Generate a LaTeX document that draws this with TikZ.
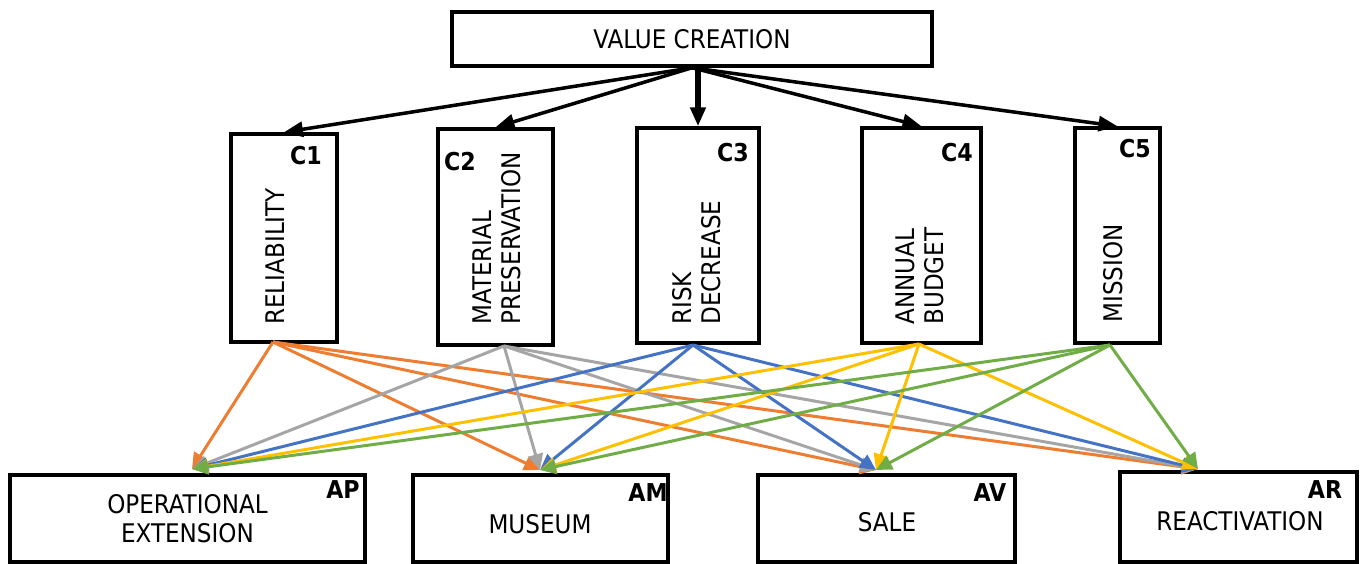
\documentclass[tikz,border=0pt]{standalone}
\usepackage{fontspec}
\setmainfont{DejaVu Sans Condensed}
\usetikzlibrary{arrows.meta}

\definecolor{critA}{HTML}{ED7D31}
\definecolor{critB}{HTML}{A5A5A5}
\definecolor{critC}{HTML}{4472C4}
\definecolor{critD}{HTML}{FFC000}
\definecolor{critE}{HTML}{70AD47}

\tikzset{
  box/.style={draw,line width=2pt,inner sep=0pt},
  tag/.style={font=\fontsize{14}{16}\selectfont\bfseries,inner sep=0pt},
  vlabel/.style={rotate=90,anchor=west,align=left,inner sep=0pt},
  tree/.style={line width=2pt,-{Triangle[length=0.38cm,width=0.3cm]}},
  link/.style={line width=1.7pt,-{Triangle[length=0.32cm,width=0.3cm]}}
}

\begin{document}
\begin{tikzpicture}[x=0.02cm,y=-0.02cm,font=\fontsize{14.6}{16.5}\selectfont]
  \useasboundingbox (0,0) rectangle (1365,564);

  % goal
  \node[box,minimum width=9.6cm,minimum height=1.08cm] (VC) at (692,39) {VALUE CREATION};

  % criteria
  \node[box,minimum width=2.12cm,minimum height=4.16cm] (C1) at (284,238) {};
  \node[box,minimum width=2.3cm,minimum height=4.32cm] (C2) at (495.5,237) {};
  \node[box,minimum width=2.44cm,minimum height=4.3cm] (C3) at (698,235.5) {};
  \node[box,minimum width=2.38cm,minimum height=4.3cm] (C4) at (921.5,235.5) {};
  \node[box,minimum width=1.7cm,minimum height=4.3cm] (C5) at (1117.5,235.5) {};

  \node[vlabel] (t1) at (275,325) {RELIABILITY};
  \node[vlabel] (t2) at (497,325) {MATERIAL\\PRESERVATION};
  \node[vlabel] (t3) at (697,325) {RISK\\DECREASE};
  \node[vlabel] (t4) at (920,325) {ANNUAL\\BUDGET};
  \node[vlabel] (t5) at (1113,323) {MISSION};

  \node[tag] (k1) at (306,156) {C1};
  \node[tag] (k2) at (460,162) {C2};
  \node[tag] (k3) at (733,153) {C3};
  \node[tag] (k4) at (957,153) {C4};
  \node[tag] (k5) at (1135,149) {C5};

  % alternatives
  \node[box,minimum width=7.1cm,minimum height=1.74cm,align=center] (AP) at (187.5,518.5) {OPERATIONAL\\EXTENSION};
  \node[box,minimum width=5.1cm,minimum height=1.74cm] (AM) at (540.5,518.5) {};
  \node[box,minimum width=5.14cm,minimum height=1.74cm] (AV) at (886.5,518.5) {};
  \node[box,minimum width=4.74cm,minimum height=1.8cm] (AR) at (1238.5,517) {};
  \node (tM) at (540,524) {MUSEUM};
  \node (tV) at (887,522) {SALE};
  \node (tR) at (1240,521) {REACTIVATION};

  \node[tag] (kP) at (343,490) {AP};
  \node[tag] (kM) at (648,493) {AM};
  \node[tag] (kV) at (990,493) {AV};
  \node[tag] (kR) at (1325,490) {AR};

  % ends of the links
  \coordinate (C1-out) at (273,342);
  \coordinate (C2-out) at (504,346);
  \coordinate (C3-out) at (693,345);
  \coordinate (C4-out) at (919,344);
  \coordinate (C5-out) at (1110,345);
  \coordinate (AP-in) at (192,469);
  \coordinate (AM-in) at (540,470);
  \coordinate (AV-in) at (876,470);
  \coordinate (AR-in) at (1198,469);

  % hierarchy
  \foreach \c in {C1,C2,C4,C5}
    \draw[tree] (VC.south) -- (\c.north);
  \draw[tree,line width=3pt] (C3.north |- VC.south) -- (C3.north);

  \foreach \c/\col in {C1/critA,C2/critB,C3/critC,C4/critD,C5/critE}
    \foreach \a in {AP,AM,AV,AR}
      \draw[link,\col] (\c-out) -- (\a-in);
\end{tikzpicture}
\end{document}
